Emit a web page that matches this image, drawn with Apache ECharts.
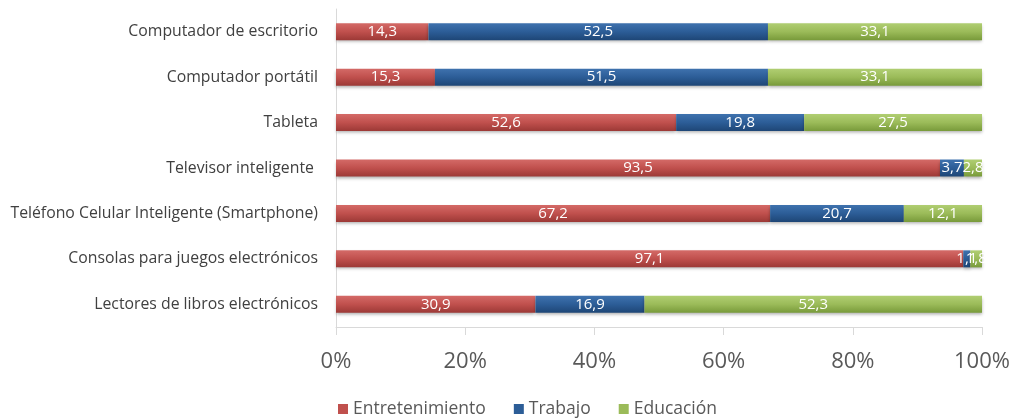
<!DOCTYPE html>
<html>
<head>
<meta charset="utf-8">
<script src="https://cdn.jsdelivr.net/npm/echarts@6/dist/echarts.min.js"></script>
<style>html,body{margin:0;padding:0;background:#fff}#c{width:1013px;height:419px}</style>
</head>
<body>
<div id="c"></div>
<script>
const categories = [
  "Computador de escritorio",
  "Computador portátil",
  "Tableta",
  "Televisor inteligente ",
  "Teléfono Celular Inteligente (Smartphone)",
  "Consolas para juegos electrónicos",
  "Lectores de libros electrónicos"
];
const entretenimiento = [14.3, 15.3, 52.6, 93.5, 67.2, 97.1, 30.9];
const trabajo = [52.5, 51.5, 19.8, 3.7, 20.7, 1.1, 16.9];
const educacion = [33.1, 33.1, 27.5, 2.8, 12.1, 1.8, 52.3];
const xTicks = ["0%", "20%", "40%", "60%", "80%", "100%"];

const seriesNames = ["Entretenimiento", "Trabajo", "Educación"];
const raw = [entretenimiento, trabajo, educacion];
const totals = categories.map((_, i) => raw.reduce((s, a) => s + a[i], 0));
const colors = [
  ["#D46A67", "#C0504D", "#9C3936"],
  ["#3F72AE", "#2C5D97", "#1E4676"],
  ["#B0CE72", "#9BBB59", "#789A3A"]
];
const legendColors = ["#C0504D", "#2C5D97", "#9BBB59"];

const chart = echarts.init(document.getElementById('c'), null, {renderer: 'canvas'});
const FONT = "'Open Sans', 'Noto Sans', sans-serif";
chart.setOption({
  animation: false,
  grid: {left: 336, right: 31, top: 9, bottom: 92, containLabel: false},
  legend: {
    bottom: -4,
    left: 333,
    itemWidth: 10, itemHeight: 10, itemGap: 28,
    icon: 'rect',
    textStyle: {fontFamily: FONT, fontSize: 17.5, color: '#595959'},
    data: seriesNames.map((n, k) => ({name: n, itemStyle: {color: legendColors[k]}}))
  },
  xAxis: {
    type: 'value', min: 0, max: 100, interval: 20,
    axisLine: {show: true, lineStyle: {color: '#D9D9D9', width: 1}},
    axisTick: {show: true, length: 8, lineStyle: {color: '#D9D9D9'}},
    splitLine: {show: false},
    axisLabel: {
      margin: 24,
      fontFamily: FONT, fontSize: 22, color: '#595959',
      formatter: (v) => xTicks[Math.round(v / 20)]
    }
  },
  yAxis: {
    type: 'category', data: categories, inverse: true,
    axisLine: {show: true, lineStyle: {color: '#D9D9D9'}},
    axisTick: {show: false},
    axisLabel: {margin: 18, fontFamily: FONT, fontSize: 15.8, color: '#404040'}
  },
  series: raw.map((arr, k) => ({
    name: seriesNames[k],
    type: 'bar',
    stack: 'total',
    barWidth: 17,
    data: arr.map((v, i) => ({value: v / totals[i] * 100, raw: v})),
    itemStyle: {
      color: new echarts.graphic.LinearGradient(0, 0, 0, 1, [
        {offset: 0, color: colors[k][0]},
        {offset: 0.5, color: colors[k][1]},
        {offset: 1, color: colors[k][2]}
      ]),
      shadowColor: 'rgba(0,0,0,0.3)', shadowBlur: 3, shadowOffsetY: 2
    },
    label: {
      show: true, position: 'inside',
      fontFamily: FONT, fontSize: 15, color: '#FFFFFF',
      formatter: (p) => String(p.data.raw).replace('.', ',')
    }
  }))
});
</script>
</body>
</html>
